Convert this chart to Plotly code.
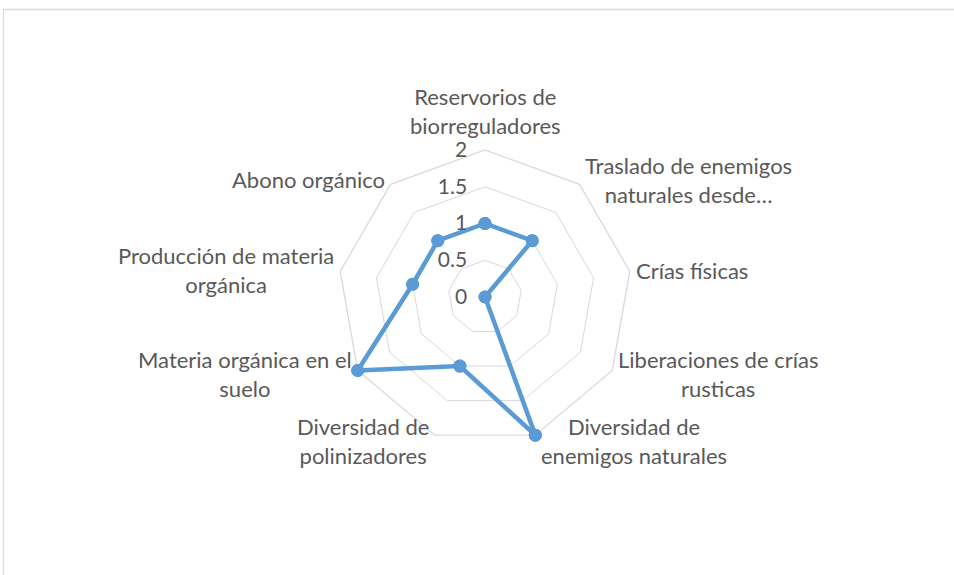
import math
import plotly.graph_objects as go

categories = [
    "Reservorios de<br>biorreguladores",
    "Traslado de enemigos<br>naturales desde…",
    "Crías físicas",
    "Liberaciones de crías<br>rusticas",
    "Diversidad de<br>enemigos naturales",
    "Diversidad de<br>polinizadores",
    "Materia orgánica en el<br>suelo",
    "Producción de materia<br>orgánica",
    "Abono orgánico",
]
values = [1, 1, 0, 0, 2, 1, 2, 1, 1]
radial_ticks = [0, 0.5, 1, 1.5, 2]
r_min, r_max = 0, 2

W, H = 954, 575
cx, cy, R = 485, 297, 147
TXT = "#595959"
GRID = "#d9d9d9"
BLUE = "#5B9BD5"
FONT = "Lato, 'Open Sans', sans-serif"
CLEAR = "rgba(0,0,0,0)"

fig = go.Figure()
fig.add_trace(go.Scatterpolar(
    r=values + values[:1],
    theta=categories + categories[:1],
    mode="lines+markers",
    line=dict(color=BLUE, width=4.5),
    marker=dict(color=BLUE, size=13),
    cliponaxis=False,
    showlegend=False,
    hoverinfo="skip",
))
# same markers on an invisible circular overlay so the point at the centre is kept
fig.add_trace(go.Scatterpolar(
    r=values,
    theta=categories,
    mode="markers",
    marker=dict(color=BLUE, size=13),
    cliponaxis=False,
    showlegend=False,
    hoverinfo="skip",
    subplot="polar2",
))

# category labels placed Excel-style just outside each outer vertex
annotations = []
n = len(categories)
for i, cat in enumerate(categories):
    a = math.radians(i * 360 / n)
    s, c = math.sin(a), math.cos(a)
    vx = cx + R * s
    vy = cy - R * c
    if abs(s) < 0.1:
        xa, ya, xs, ys = "center", "bottom", 0, 9
    elif s > 0:
        xa, ya, xs, ys = "left", "middle", 4, 6 * c
    else:
        xa, ya, xs, ys = "right", "middle", -4, 6 * c
    annotations.append(dict(
        x=vx / W, y=1 - vy / H, xref="paper", yref="paper",
        text=cat, showarrow=False, xanchor=xa, yanchor=ya, align="center",
        xshift=xs, yshift=ys, font=dict(family=FONT, size=22, color=TXT),
    ))

domain = dict(x=[(cx - R) / W, (cx + R) / W], y=[(H - cy - R) / H, (H - cy + R) / H])

fig.update_layout(
    width=W, height=H,
    margin=dict(l=0, r=0, t=0, b=0),
    paper_bgcolor="white",
    font=dict(family=FONT, size=22, color=TXT),
    polar=dict(
        domain=domain,
        bgcolor=CLEAR,
        gridshape="linear",
        angularaxis=dict(
            rotation=90, direction="clockwise",
            showgrid=False, showline=True, linecolor=GRID, linewidth=1.3,
            ticks="", showticklabels=False,
        ),
        radialaxis=dict(
            range=[r_min, r_max], tickvals=radial_ticks, ticktext=[str(t) for t in radial_ticks],
            angle=90, tickangle=90, side="counterclockwise",
            showline=False, gridcolor=GRID, gridwidth=1.3,
            ticks="outside", ticklen=10, tickcolor=CLEAR,
            tickfont=dict(family=FONT, size=21, color=TXT),
        ),
    ),
    polar2=dict(
        domain=domain,
        bgcolor=CLEAR,
        gridshape="circular",
        angularaxis=dict(
            rotation=90, direction="clockwise", categoryorder="array", categoryarray=categories,
            showgrid=False, showline=False, ticks="", showticklabels=False,
        ),
        radialaxis=dict(range=[r_min, r_max], visible=False),
    ),
    annotations=annotations,
    shapes=[dict(type="rect", xref="paper", yref="paper",
                 x0=3.5 / W, x1=1.2, y0=-0.2, y1=(H - 9.5) / H,
                 line=dict(color=GRID, width=1.3), fillcolor=CLEAR)],
)
fig.write_html("out.html", config={"displayModeBar": False},
               post_script="document.body.style.margin='0';document.body.style.overflow='hidden';")
